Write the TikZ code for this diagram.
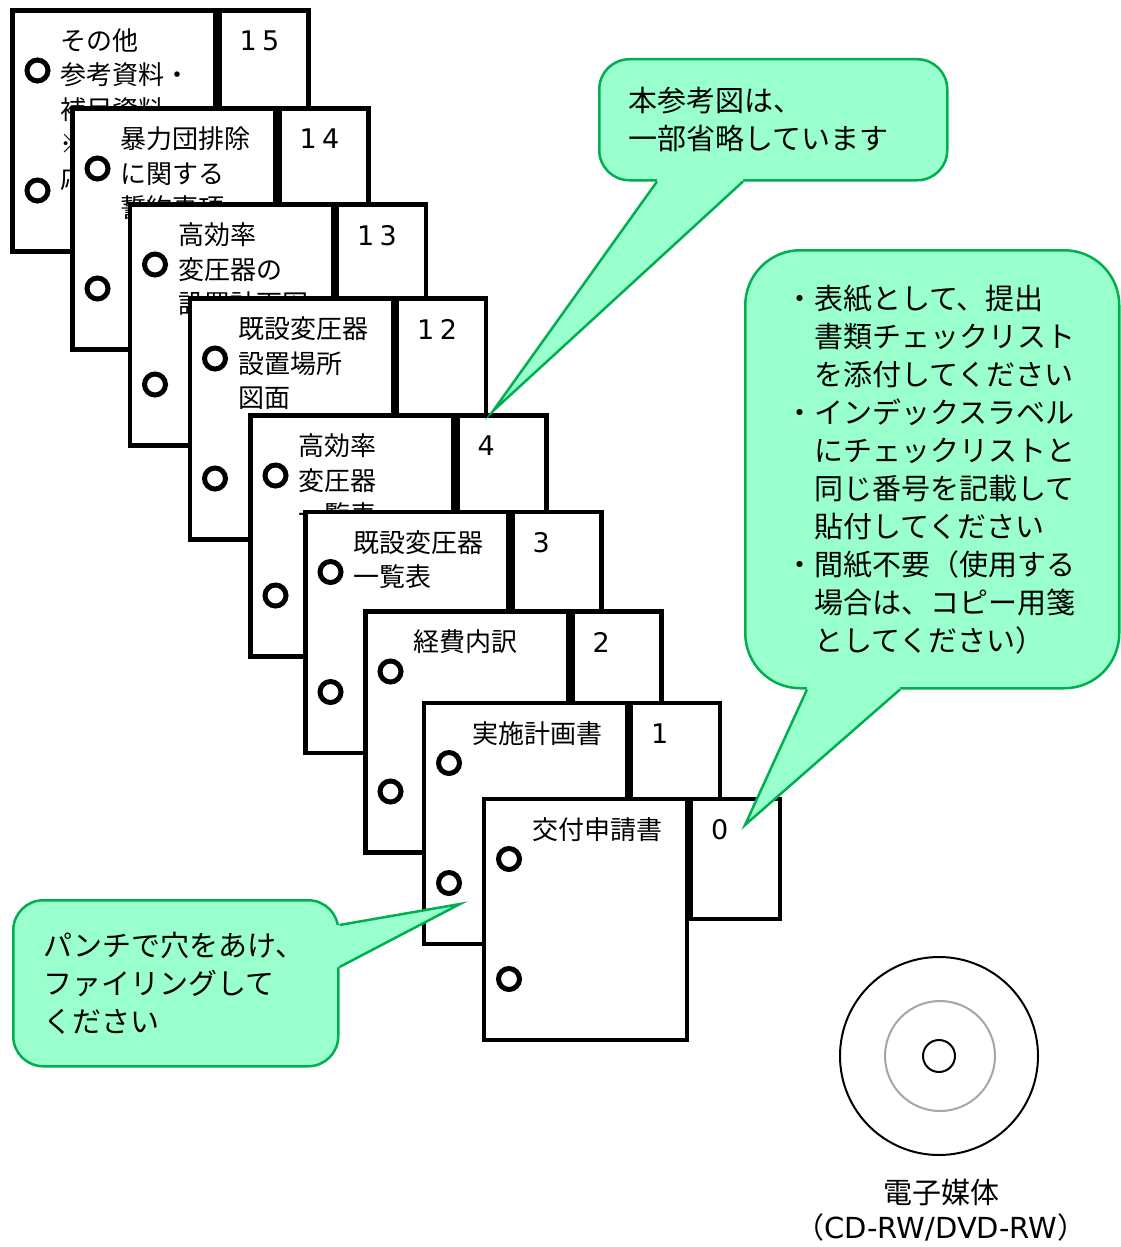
\documentclass[tikz,border=0pt]{standalone}
\usepackage{fontspec}
\setmainfont{Noto Sans CJK JP}
\newfontfamily\latinfont{DejaVu Sans}
\newfontfamily\digitfont[LetterSpace=20]{DejaVu Sans}
\usetikzlibrary{positioning}
\definecolor{noteFill}{HTML}{99FFCC}
\definecolor{noteLine}{HTML}{00B050}

\begin{document}
\begin{tikzpicture}
[x=1pt,y=-1pt,
  pageDecorate/.style={draw,fill=white,line width=4.3pt,inner sep=0pt,outer sep=0pt,
    minimum width=203pt,minimum height=241pt},
  tabDecorate/.style={pageDecorate,minimum width=89pt,minimum height=120pt},
  holeDecorate/.style={line width=5pt},
  titleDecorate/.style={anchor=north west,inner sep=0pt,align=left,
    font=\fontsize{26}{34.5}\selectfont},
  numDecorate/.style={anchor=north west,inner sep=0pt,font=\digitfont\fontsize{27}{30}\selectfont},
  noteDecorate/.style={draw=noteLine,fill=noteFill,line width=2.5pt,rounded corners=30pt,
    anchor=north west,inner ysep=0pt,align=left,font=\fontsize{29}{38}\selectfont},
  tipDecorate/.style={draw=noteLine,line width=2.5pt}]
\useasboundingbox (0,0) rectangle (1120,1247);
%% pages, back to front
\foreach \n/\x/\y/\txt in {
  15/12.5/10.5/{その他\\参考資料・\\補足資料\\※\\応},
  14/72.5/108.5/{暴力団排除\\に関する\\誓約事項},
  13/130/204.5/{高効率\\変圧器の\\設置計画図},
  12/190/298.5/{既設変圧器\\設置場所\\図面},
  4/250.5/415.5/{高効率\\変圧器\\一覧表},
  3/305.5/512/{既設変圧器\\一覧表},
  2/365.5/611.5/{経費内訳},
  1/424/703/{実施計画書},
  0/484/799/{交付申請書}}
{
  \node[pageDecorate,anchor=north west] (p\n) at (\x,\y) {};
  \node[tabDecorate,right=4pt of p\n.north east,anchor=north west] (t\n) {};
  \node[titleDecorate] (l\n) at ([xshift=48pt,yshift=-18pt]p\n.north west) {\txt};
  \node[numDecorate] (n\n) at ([xshift=20pt,yshift=-20.5pt]t\n.north west) {\n};
  \draw[holeDecorate] ([xshift=25pt,yshift=-60pt]p\n.north west) circle[radius=10.5];
  \draw[holeDecorate] ([xshift=25pt,yshift=-180pt]p\n.north west) circle[radius=10.5];
}
%% notes
\node[noteDecorate,minimum width=348pt,minimum height=121pt,text width=290pt,inner xsep=29pt]
  (noteTop) at (598,58) {本参考図は、\\一部省略しています};
\node[noteDecorate,rounded corners=55pt,minimum width=374pt,minimum height=438pt,
  text width=294pt,inner xsep=40pt] (noteRight) at (744,249)
  {・表紙として、提出\\\hphantom{・}書類チェックリスト\\\hphantom{・}を添付してください\\
   ・インデックスラベル\\\hphantom{・}にチェックリストと\\\hphantom{・}同じ番号を記載して\\
   \hphantom{・}貼付してください\\・間紙不要（使用する\\\hphantom{・}場合は、コピー用箋\\
   \hphantom{・}としてください）};
\node[noteDecorate,minimum width=325pt,minimum height=166pt,text width=265pt,inner xsep=30pt]
  (noteLeft) at (12,899) {パンチで穴をあけ、\\ファイリングして\\ください};
%% pointers
\coordinate (tipTop) at (493,411);
\coordinate (tipRight) at (745,825);
\coordinate (tipLeft) at (460,904);
\coordinate (topA) at ([xshift=59pt]noteTop.south west);
\coordinate (topB) at ([xshift=145pt]noteTop.south west);
\coordinate (rightA) at ([xshift=63pt]noteRight.south west);
\coordinate (rightB) at ([xshift=156pt]noteRight.south west);
\coordinate (leftA) at ([yshift=-26pt]noteLeft.north east);
\coordinate (leftB) at ([yshift=-68pt]noteLeft.north east);
\fill[noteFill] ([yshift=4pt]topA) -- (topA) -- (tipTop) -- (topB) -- ([yshift=4pt]topB) -- cycle;
\draw[tipDecorate] (topA) -- (tipTop) -- (topB);
\fill[noteFill] ([yshift=4pt]rightA) -- (rightA) -- (tipRight) -- (rightB) -- ([yshift=4pt]rightB) -- cycle;
\draw[tipDecorate] (rightA) -- (tipRight) -- (rightB);
\fill[noteFill] ([xshift=-4pt]leftA) -- (leftA) -- (tipLeft) -- (leftB) -- ([xshift=-4pt]leftB) -- cycle;
\draw[tipDecorate] (leftA) -- (tipLeft) -- (leftB);
%% disc
\draw[line width=2pt] (939,1056) circle[radius=99];
\draw[line width=2pt,black!35] (940,1056) circle[radius=55];
\draw[line width=2pt] (939,1056) circle[radius=16];
\node[align=center,inner sep=0pt,font=\fontsize{29}{35}\selectfont] (cdLabel) at (941,1210)
  {電子媒体\\（{\latinfont CD-RW/DVD-RW}）};
\end{tikzpicture}
\end{document}
